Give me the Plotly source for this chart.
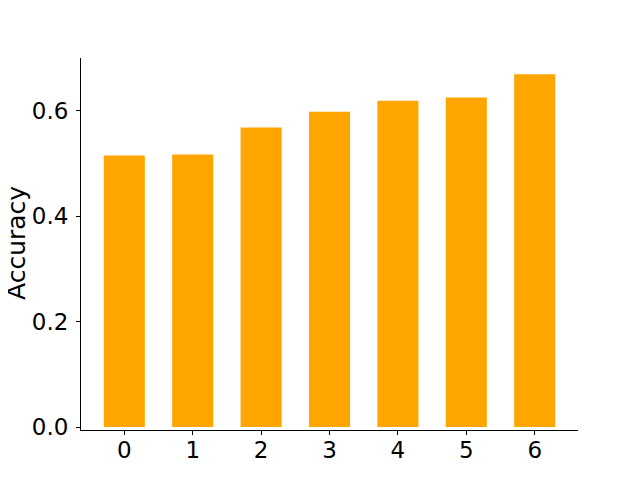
import plotly.graph_objects as go

categories = [0, 1, 2, 3, 4, 5, 6]
accuracy = [0.515, 0.517, 0.568, 0.598, 0.619, 0.625, 0.669]

fig = go.Figure(
    go.Bar(
        x=categories,
        y=accuracy,
        width=0.6,
        marker=dict(color="#FFA500", line=dict(width=0)),
    )
)

font = dict(family="DejaVu Sans", size=23, color="black")

# page body adds ~8px offset, margins compensate for it
fig.update_layout(
    width=640,
    height=480,
    margin=dict(l=73, r=70, t=50, b=58),
    plot_bgcolor="white",
    paper_bgcolor="white",
    showlegend=False,
    font=font,
)
fig.update_xaxes(
    range=[-0.633, 6.633],
    tickvals=categories,
    showline=True,
    linecolor="black",
    linewidth=1,
    ticks="outside",
    ticklen=4,
    tickcolor="black",
    showgrid=False,
    zeroline=False,
    tickfont=font,
    ticklabelstandoff=-5,
    automargin=False,
)
fig.update_yaxes(
    range=[-0.0057, 0.7],
    tickvals=[0.0, 0.2, 0.4, 0.6],
    tickformat=".1f",
    showline=True,
    linecolor="black",
    linewidth=1,
    ticks="outside",
    ticklen=4,
    tickcolor="black",
    showgrid=False,
    zeroline=False,
    tickfont=font,
    ticklabelstandoff=3,
    automargin=False,
)

# y-axis label as annotation so it can sit further out
fig.add_annotation(
    text="Accuracy",
    xref="paper", yref="paper",
    x=0, y=0.5,
    xshift=-65, yshift=1,
    xanchor="center", yanchor="middle",
    textangle=-90,
    showarrow=False,
    borderpad=0,
    font=dict(family="DejaVu Sans", size=25, color="black"),
)

fig.write_html("out.html")
